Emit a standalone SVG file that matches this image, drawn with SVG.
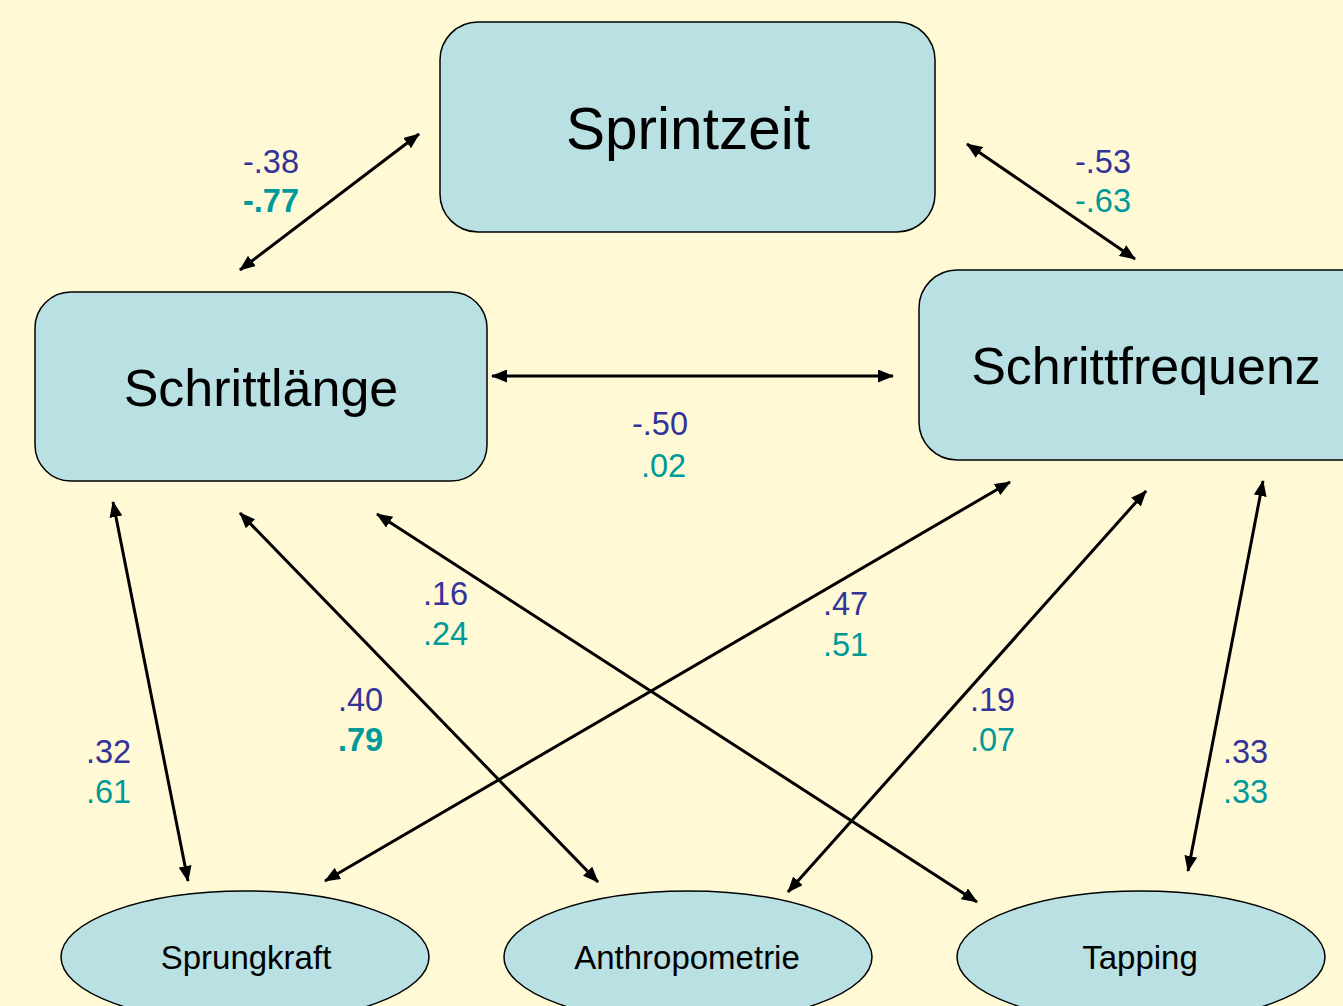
<svg xmlns="http://www.w3.org/2000/svg" width="1343" height="1006" viewBox="0 0 1343 1006">
<defs>
<marker id="ah" viewBox="0 0 16 13" refX="15" refY="6.5" markerUnits="userSpaceOnUse" markerWidth="16" markerHeight="13" orient="auto-start-reverse">
<path d="M0,0 L16,6.5 L0,13 z" fill="#000"/>
</marker>
<style>
.box{fill:#B9E0E3;stroke:#000;stroke-width:1.5}
.lbl{font-family:"Liberation Sans",Arial,sans-serif;fill:#000;text-anchor:middle}
.big{font-size:58.5px}
.mid{font-size:52px}
.sm{font-size:33px}
.num{font-family:"Liberation Sans",Arial,sans-serif;font-size:32.5px}
.b{fill:#333399}
.t{fill:#009999}
.bold{font-weight:bold}
.c{stroke:#000;stroke-width:3;fill:none;marker-start:url(#ah);marker-end:url(#ah)}
</style>
</defs>
<rect width="1343" height="1006" fill="#FFF9D5"/>
<g id="connectors">
<line class="c" x1="240" y1="270" x2="419" y2="134"/>
<line class="c" x1="967" y1="144" x2="1135" y2="259"/>
<line class="c" x1="492" y1="376" x2="893" y2="376"/>
<line class="c" x1="113" y1="502" x2="188" y2="881"/>
<line class="c" x1="240" y1="513" x2="598" y2="882"/>
<line class="c" x1="377" y1="514" x2="977" y2="902"/>
<line class="c" x1="1010" y1="482" x2="325" y2="881"/>
<line class="c" x1="1146" y1="491" x2="788" y2="892"/>
<line class="c" x1="1263" y1="481" x2="1188" y2="871"/>
</g>
<g id="labels">
<text class="num b" x="243" y="173">-.38</text>
<text class="num t bold" x="243" y="212">-.77</text>
<text class="num b" x="1075" y="173">-.53</text>
<text class="num t" x="1075" y="212">-.63</text>
<text class="num b" x="632" y="435">-.50</text>
<text class="num t" x="641" y="477">.02</text>
<text class="num b" x="423" y="605">.16</text>
<text class="num t" x="423" y="645">.24</text>
<text class="num b" x="823" y="615">.47</text>
<text class="num t" x="823" y="656">.51</text>
<text class="num b" x="338" y="711">.40</text>
<text class="num t bold" x="338" y="751">.79</text>
<text class="num b" x="970" y="711">.19</text>
<text class="num t" x="970" y="751">.07</text>
<text class="num b" x="86" y="763">.32</text>
<text class="num t" x="86" y="803">.61</text>
<text class="num b" x="1223" y="763">.33</text>
<text class="num t" x="1223" y="803">.33</text>
</g>
<g id="sprintzeit">
<rect class="box" x="440" y="22" width="495" height="210" rx="38" ry="38"/>
<text class="lbl big" x="688" y="149">Sprintzeit</text>
</g>
<g id="schrittlaenge">
<rect class="box" x="35" y="292" width="452" height="189" rx="36" ry="36"/>
<text class="lbl mid" x="261" y="406">Schrittlänge</text>
</g>
<g id="schrittfrequenz">
<rect class="box" x="919" y="270" width="460" height="190" rx="38" ry="38"/>
<text class="lbl mid" x="1146" y="384">Schrittfrequenz</text>
</g>
<g id="sprungkraft">
<ellipse class="box" cx="245" cy="957" rx="184" ry="66"/>
<text class="lbl sm" x="246" y="969">Sprungkraft</text>
</g>
<g id="anthropometrie">
<ellipse class="box" cx="688" cy="957" rx="184" ry="66"/>
<text class="lbl sm" x="687" y="969">Anthropometrie</text>
</g>
<g id="tapping">
<ellipse class="box" cx="1141" cy="957" rx="184" ry="66"/>
<text class="lbl sm" x="1140" y="969">Tapping</text>
</g>
</svg>
